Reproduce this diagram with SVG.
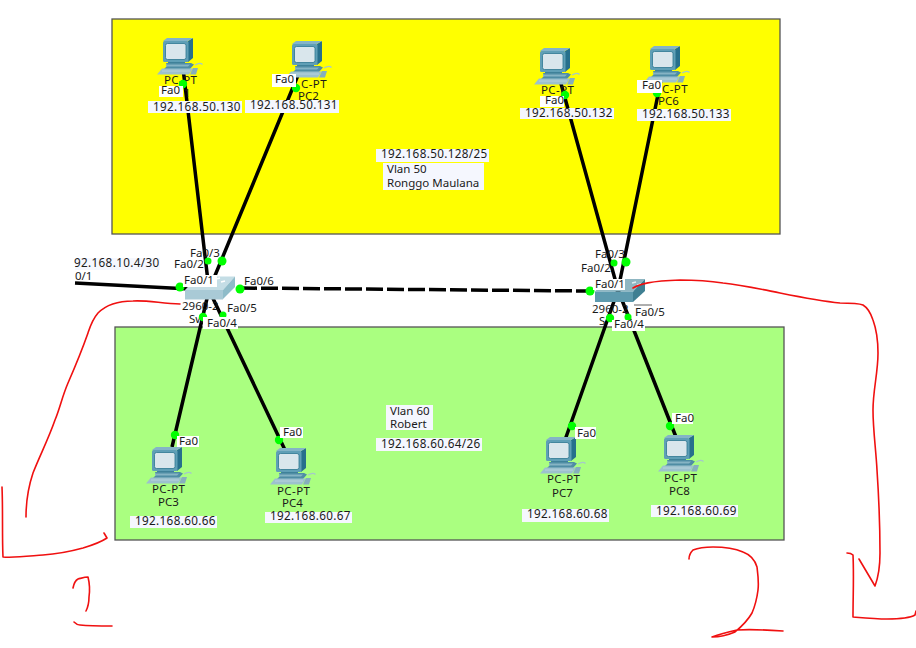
<svg xmlns="http://www.w3.org/2000/svg" width="916" height="648" viewBox="0 0 916 648">
<style>
text{font-family:"Noto Sans","Liberation Sans",sans-serif;font-size:11.5px;fill:#1a1a1a}
.ip{font-size:11.7px;letter-spacing:.35px}
.pt{letter-spacing:.4px}
.z{stroke:#555;stroke-width:1.3}
.l{stroke:#000;stroke-width:3.5;fill:none}
.d{fill:#0f0}
.w{fill:#fff}
.b{fill:#f5f7fe}
.r{fill:none;stroke:#f01010;stroke-width:1.6;stroke-linecap:round;stroke-linejoin:round}
</style>
<defs>
<g id="pc">
<path d="M11 21H28V26H11Z" fill="#3f8199"/>
<path d="M9 25H34L37 26.500L33 31H7L10 28Z" fill="#4f8da4"/>
<path d="M9 26.500H33L31 28.500H9Z" fill="#86b4c4"/>
<path d="M0 36.500L5 30.500H36L32 36.500Z" fill="#9cc1ce"/>
<path d="M5 33H33" stroke="#c4dbe2" stroke-width=".7"/>
<path d="M36 30L41 30L39 36.500L33 36.500Z" fill="#86afbd"/>
<path d="M38 27Q43 24 45.500 26.500" fill="none" stroke="#a5c9c8" stroke-width="1.300"/>
<path d="M31 3L36 0V20L31 24Z" fill="#27708c"/>
<path d="M6 3L10 0H36L31 3Z" fill="#84b4c7"/>
<rect x="6" y="3" width="25.500" height="21" rx="1.500" fill="#5f9fb6"/>
<rect x="8.500" y="5.500" width="20.500" height="16" rx="2" fill="#d9e6ec" stroke="#2c7690" stroke-width=".8"/>
</g>
</defs>

<rect id="vlan50-area" class="z" x="112" y="19" width="668" height="215" fill="#ffff00"/>
<rect id="vlan60-area" class="z" x="115" y="327" width="669" height="213" fill="#aaff80"/>

<g id="connectors">
<path class="l" d="M183 68L209 290M301 68L209 290M560 80L618 290M662 75L618 290M75 283L209 290"/>
<path class="l" d="M209 290L172 447M209 290L285 450M618 290L565 440M618 290L676 437"/>
<path class="l" stroke-dasharray="17 4" d="M240 288L590 291"/>
</g>

<g id="PC1"><use href="#pc" x="157" y="38"/><text class="pt" x="164" y="84">PC-PT</text><text x="184" y="97">1</text></g>
<g id="PC2"><use href="#pc" x="286" y="41"/><text class="pt" x="301" y="88">C-PT</text><text x="298" y="100">PC2</text></g>
<g id="PC5"><use href="#pc" x="534" y="48"/><text class="pt" x="541" y="94">PC-PT</text></g>
<g id="PC6"><use href="#pc" x="644" y="46"/><text class="pt" x="662" y="93">C-PT</text><text x="658" y="105">PC6</text></g>
<g id="PC3"><use href="#pc" x="146" y="447"/><text class="pt" x="152" y="493">PC-PT</text><text x="158" y="506">PC3</text></g>
<g id="PC4"><use href="#pc" x="270" y="448"/><text class="pt" x="277" y="495">PC-PT</text><text x="282" y="507">PC4</text></g>
<g id="PC7"><use href="#pc" x="540" y="437"/><text class="pt" x="547" y="483">PC-PT</text><text x="552" y="497">PC7</text></g>
<g id="PC8"><use href="#pc" x="658" y="435"/><text class="pt" x="664" y="482">PC-PT</text><text x="669" y="495">PC8</text></g>

<g id="Switch1">
<path d="M185 290L198 276.500L235 276.500L223 290Z" fill="#c4dde5"/>
<path d="M223 290L235 276.500L235 287L223 299Z" fill="#8fbcc9"/>
<rect x="185" y="290" width="38" height="9.500" fill="#a9cad6"/>
<path d="M216 279l4-1M221 282l4-1" stroke="#fff" stroke-width="1.500"/>
<text x="182" y="310">2960-2</text><text x="189" y="323">Sw</text>
</g>
<g id="Switch2">
<path d="M595 291.500L607 279L645 279L633 291.500Z" fill="#8fb6c2"/>
<path d="M633 291.500L645 279L645 291L633 302Z" fill="#3f7f92"/>
<rect x="595" y="291.500" width="38" height="10.500" fill="#5d9aae"/>
<path d="M632 283l4-1M637 285l4-1" stroke="#dfeef3" stroke-width="1.500"/>
<text x="592" y="313">2960-2</text><text x="599" y="325">S</text>
</g>

<g id="ports" class="d">
<circle cx="183" cy="84" r="4.200"/><circle cx="296" cy="88" r="4.200"/><circle cx="565" cy="95" r="4.200"/><circle cx="657" cy="93" r="4.200"/>
<circle cx="175" cy="435" r="4.200"/><circle cx="279" cy="440" r="4.200"/><circle cx="572" cy="426" r="4.200"/><circle cx="670" cy="426" r="4.200"/>
<circle cx="208" cy="261" r="3.500"/><circle cx="222" cy="261" r="4.500"/><circle cx="180" cy="287" r="4.500"/><circle cx="240" cy="289" r="4.500"/><circle cx="203" cy="317" r="4.200"/><circle cx="223" cy="315" r="3.500"/>
<circle cx="614" cy="263" r="3.500"/><circle cx="626" cy="262" r="4.500"/><circle cx="590" cy="291" r="4.500"/><circle cx="610" cy="318" r="4.200"/><circle cx="628" cy="317" r="3.500"/>
</g>

<g id="labels">
<g class="w">
<rect x="159" y="86" width="24" height="11"/><rect x="272" y="74" width="24" height="13"/><rect x="540" y="96" width="24" height="11"/><rect x="637" y="80" width="25" height="13"/>
<rect x="177" y="436" width="22" height="11"/><rect x="280" y="427" width="23" height="11"/><rect x="575" y="427" width="21" height="12"/><rect x="672" y="413" width="21" height="11"/>
<rect x="183" y="275" width="34" height="12"/><rect x="203" y="317" width="35" height="12"/><rect x="593" y="279" width="32" height="11"/><rect x="612" y="320" width="33" height="11"/>
</g>
<g class="b">
<rect x="148" y="101" width="94" height="12"/><rect x="245" y="100" width="94" height="13"/><rect x="520" y="108" width="94" height="11"/><rect x="637" y="109" width="94" height="12"/>
<rect x="130" y="516" width="87" height="12"/><rect x="265" y="512" width="87" height="11"/><rect x="522" y="509" width="87" height="13"/><rect x="651" y="505" width="87" height="12"/>
<rect x="376" y="149" width="113" height="13"/><rect x="383" y="163" width="101" height="27"/>
<rect x="386" y="405" width="47" height="25"/><rect x="376" y="438" width="106" height="13"/>
<rect x="75" y="258" width="85" height="12"/>
</g>
<text x="161" y="94">Fa0</text><text x="275" y="83">Fa0</text><text x="545" y="104">Fa0</text><text x="642" y="89">Fa0</text>
<text x="179" y="445">Fa0</text><text x="283" y="436">Fa0</text><text x="577" y="437">Fa0</text><text x="675" y="422">Fa0</text>
<text x="190" y="257">Fa0/3</text><text x="174" y="268">Fa0/2</text><text x="184" y="284">Fa0/1</text><text x="244" y="285">Fa0/6</text><text x="227" y="312">Fa0/5</text><text x="207" y="327">Fa0/4</text>
<text x="595" y="258">Fa0/3</text><text x="581" y="272">Fa0/2</text><text x="595" y="288">Fa0/1</text><text x="635" y="316">Fa0/5</text><text x="614" y="328">Fa0/4</text>
<path d="M634 305h18" stroke="#333" stroke-width=".8"/>
<text class="ip" x="153" y="111">192.168.50.130</text><text class="ip" x="250" y="109">192.168.50.131</text><text class="ip" x="525" y="117">192.168.50.132</text><text class="ip" x="642" y="118">192.168.50.133</text>
<text class="ip" x="135" y="525">192.168.60.66</text><text class="ip" x="270" y="520">192.168.60.67</text><text class="ip" x="527" y="518">192.168.60.68</text><text class="ip" x="656" y="515">192.168.60.69</text>
<text class="ip" x="381" y="158">192.168.50.128/25</text><text x="387" y="173">Vlan 50</text><text x="387" y="187">Ronggo Maulana</text>
<text x="390" y="415">Vlan 60</text><text x="390" y="428">Robert</text><text class="ip" x="381" y="448">192.168.60.64/26</text>
<text class="ip" x="74" y="267">92.168.10.4/30</text><text x="75" y="280">0/1</text>
</g>

<g id="annotations">
<path class="r" d="M180 304C160 303 145 300 133 301C120 301 108 303 98 313C92 320 90 327 88 333C82 350 75 367 68 383C62 397 60 408 55 420C48 440 40 455 33 473C28 488 26 503 26 517"/>
<path class="r" d="M2 487C3 510 2 535 3 557C15 558 30 556 43 555C58 554 72 551 83 548C93 545 101 542 107 538L104 533"/>
<path class="r" d="M73 588C74 583 76 580 78 579C82 578 85 577 88 577C90 585 90 590 89 597C89 603 88 607 86 611"/>
<path class="r" d="M74 622C76 624 78 625 80 625C90 626 101 626 112 626"/>
<path class="r" d="M633 288C640 284 650 281 680 280C695 280 710 281 723 283C742 285 760 289 780 293C800 297 820 301 840 303C848 303 858 303 863 305C868 308 871 314 873 320C877 331 878 342 878 353C878 373 873 390 873 410C873 430 876 450 877 470C879 500 880 530 880 553C880 565 878 578 875 586L859 559"/>
<path class="r" d="M847 553C849 553 851 553 853 555C854 575 853 597 853 617C865 618 876 619 887 619C898 619 910 618 915 615L916 611"/>
<path class="r" d="M689 559C689 555 691 552 693 550C698 548 705 547 713 547C725 547 736 549 743 552C751 555 755 560 757 567C758 575 759 582 758 590C757 598 755 606 752 613C748 620 741 627 735 632C728 635 720 637 712 637C720 634 728 632 737 630C752 629 768 630 783 631"/>
</g>
</svg>
